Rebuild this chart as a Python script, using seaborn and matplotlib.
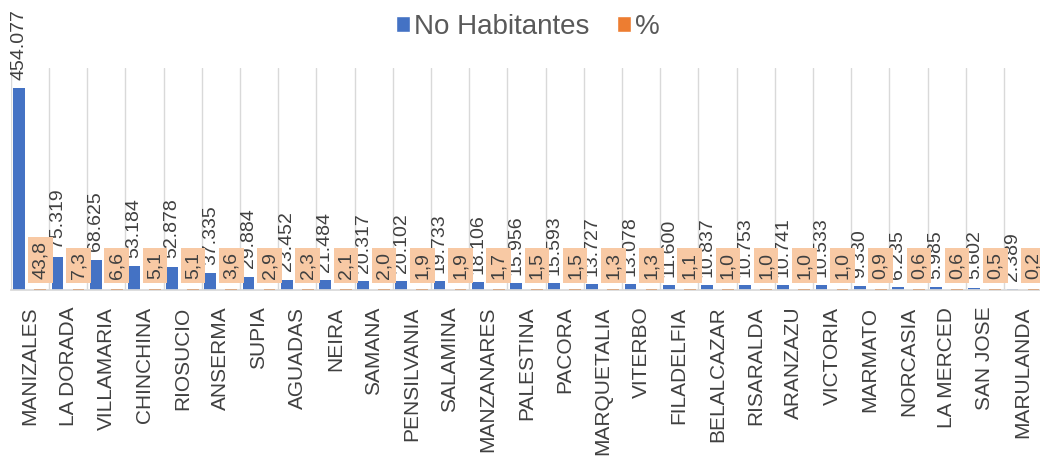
import numpy as np
import pandas as pd
import matplotlib
matplotlib.use("Agg")
import matplotlib.pyplot as plt
import seaborn as sns

municipios = [
    "MANIZALES", "LA DORADA", "VILLAMARIA", "CHINCHINA", "RIOSUCIO", "ANSERMA",
    "SUPIA", "AGUADAS", "NEIRA", "SAMANA", "PENSILVANIA", "SALAMINA",
    "MANZANARES", "PALESTINA", "PACORA", "MARQUETALIA", "VITERBO", "FILADELFIA",
    "BELALCAZAR", "RISARALDA", "ARANZAZU", "VICTORIA", "MARMATO", "NORCASIA",
    "LA MERCED", "SAN JOSE", "MARULANDA",
]
habitantes = [
    454077, 75319, 68625, 53184, 52878, 37335, 29884, 23452, 21484, 20317,
    20102, 19733, 18106, 15956, 15593, 13727, 13078, 11600, 10837, 10753,
    10741, 10533, 9330, 6235, 5985, 5602, 2389,
]
porcentaje = [
    43.8, 7.3, 6.6, 5.1, 5.1, 3.6, 2.9, 2.3, 2.1, 2.0, 1.9, 1.9, 1.7, 1.5,
    1.5, 1.3, 1.3, 1.1, 1.0, 1.0, 1.0, 1.0, 0.9, 0.6, 0.6, 0.5, 0.2,
]
series = ["No Habitantes", "%"]

BLUE = "#4472C4"
ORANGE = "#ED7D31"
PEACH = "#F8C9A4"
GRID = "#D9D9D9"
TXT = "#404040"

df = pd.DataFrame({
    "Municipio": municipios * 2,
    "Valor": habitantes + porcentaje,
    "Serie": [series[0]] * len(municipios) + [series[1]] * len(municipios),
})

sns.set_theme(style="white")
plt.rcParams["font.family"] = ["Liberation Sans", "DejaVu Sans"]

fig = plt.figure(figsize=(10.4, 4.58), dpi=100)
ax = fig.add_axes([10.7 / 1040, (458 - 290) / 458, 27 * 38.2 / 1040, 222 / 458])

sns.barplot(
    data=df, x="Municipio", y="Valor", hue="Serie", hue_order=series,
    palette=[BLUE, ORANGE], saturation=1, width=1.1, gap=0.44, ax=ax,
)

# tiny % bars are invisible on this scale, give them an edge so the dash shows
for p in ax.containers[1]:
    p.set_edgecolor("#D9A27A")
    p.set_linewidth(1.2)
    p.set_zorder(3)
for p in ax.containers[0]:
    p.set_edgecolor("none")

pop_labels = [f"{v:,}".replace(",", ".") for v in habitantes]
pct_labels = [f"{v:.1f}".replace(".", ",") for v in porcentaje]

ax.bar_label(ax.containers[0], labels=pop_labels, padding=6, rotation=90,
             fontsize=14, color=TXT)
ax.bar_label(ax.containers[1], labels=pct_labels, padding=8, rotation=90,
             fontsize=14, color=TXT,
             bbox=dict(boxstyle="square,pad=0.2", fc=PEACH, ec="none"))

ax.set_ylim(0, 500000)
ax.set_xlim(-0.5, len(municipios) - 0.5)
ax.set_xlabel("")
ax.set_ylabel("")
ax.set_yticks([])
ax.set_xticks(np.arange(-0.5, len(municipios), 1), minor=True)
ax.grid(which="minor", axis="x", color=GRID, lw=1)
ax.set_axisbelow(True)
ax.tick_params(axis="x", which="both", length=0)
ax.tick_params(axis="x", which="major", pad=12, labelsize=15, labelcolor=TXT,
               labelrotation=90)
for s in ["left", "top", "right"]:
    ax.spines[s].set_visible(False)
ax.spines["bottom"].set_color(GRID)

sns.move_legend(
    ax, "center", bbox_to_anchor=(528 / 1040, 1 - 27 / 458),
    bbox_transform=fig.transFigure, ncol=2, frameon=False, title=None,
    fontsize=20, handlelength=0.5, handleheight=0.5, handletextpad=0.15,
    columnspacing=1.0, labelcolor="#595959",
)

fig.savefig("out.png", dpi=100)
